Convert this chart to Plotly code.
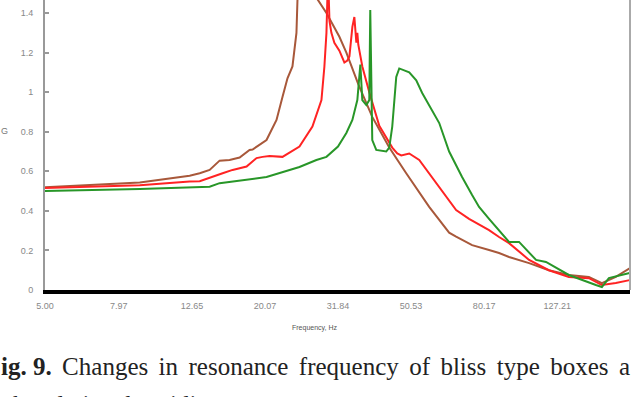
import numpy as np
import plotly.graph_objects as go

# ---- data ----
brown_f = [5.00, 9.10, 12.47, 13.29, 14.15, 15.07, 16.05, 17.10, 18.21, 18.56, 20.27, 21.59, 22.42,
           23.14, 23.88, 24.49, 24.65, 25.5, 26.2, 27.2, 27.96, 29.60, 32.12, 33.57, 36.21, 39.54,
           44.02, 49.00, 54.20, 56.65, 60.37, 64.26, 67.16, 74.30, 82.70, 88.09, 93.83, 106.5,
           120.7, 136.9, 155.4, 168.7, 184.2, 201.0]
brown_g = [0.52, 0.543, 0.578, 0.59, 0.607, 0.654, 0.657, 0.67, 0.708, 0.71, 0.758, 0.86, 0.976,
           1.07, 1.13, 1.30, 1.47, 1.70, 1.78, 1.60, 1.47, 1.40, 1.28, 1.20, 1.04, 0.875,
           0.72, 0.59, 0.47, 0.42, 0.354, 0.29, 0.27, 0.227, 0.202, 0.187, 0.167, 0.136,
           0.10, 0.076, 0.066, 0.035, 0.066, 0.11]

red_f = [5.00, 9.10, 12.47, 13.29, 15.36, 16.36, 17.87, 19.03, 19.77, 20.66, 22.42, 24.96, 27.09,
         28.68, 29.22, 29.60, 29.90, 30.17, 30.54, 31.12, 32.12, 33.15, 33.78, 34.22, 34.87, 35.31,
         35.76, 35.98, 36.20, 37.13, 38.80, 41.33, 44.86, 46.30, 47.48, 49.94, 53.20, 56.65,
         60.37, 64.26, 67.16, 72.88, 82.70, 88.09, 93.83, 106.5, 120.7, 136.9, 155.4, 168.7,
         184.2, 201.0]
red_g = [0.515, 0.53, 0.548, 0.55, 0.59, 0.607, 0.624, 0.667, 0.673, 0.677, 0.673, 0.725, 0.826,
         0.96, 1.13, 1.30, 1.60, 1.36, 1.30, 1.25, 1.21, 1.15, 1.16, 1.18, 1.33, 1.38,
         1.25, 1.30, 1.24, 1.13, 1.00, 0.83, 0.72, 0.69, 0.68, 0.69, 0.657, 0.59,
         0.52, 0.455, 0.404, 0.36, 0.303, 0.268, 0.237, 0.152, 0.10, 0.066, 0.06, 0.025,
         0.035, 0.05]

green_f = [5.00, 9.10, 14.15, 15.07, 20.27, 24.96, 27.78, 29.60, 31.84, 33.57, 34.87, 35.98, 36.67,
           37.13, 38.08, 38.80, 39.04, 39.54, 40.55, 43.19, 44.02, 44.86, 46.01, 46.89, 49.94,
           52.21, 54.20, 60.37, 64.26, 69.74, 74.30, 77.65, 82.70, 86.44, 93.83, 99.96, 111.3,
           118.5, 136.9, 162.4, 168.7, 176.3, 201.0]
green_g = [0.50, 0.51, 0.522, 0.54, 0.571, 0.622, 0.657, 0.673, 0.725, 0.794, 0.86, 0.96, 1.14,
           0.96, 0.935, 0.96, 1.415, 0.758, 0.708, 0.70, 0.72, 0.826, 1.077, 1.12, 1.10,
           1.06, 0.996, 0.844, 0.70, 0.571, 0.48, 0.42, 0.36, 0.318, 0.243, 0.243, 0.152,
           0.142, 0.076, 0.025, 0.015, 0.06, 0.086]

x_tick_vals = [5.00, 7.97, 12.65, 20.07, 31.84, 50.53, 80.17, 127.21]
x_tick_text = ["5.00", "7.97", "12.65", "20.07", "31.84", "50.53", "80.17", "127.21"]
y_tick_vals = [0, 0.2, 0.4, 0.6, 0.8, 1, 1.2, 1.4]
y_tick_text = ["0", "0.2", "0.4", "0.6", "0.8", "1", "1.2", "1.4"]

fig = go.Figure()
for f, g, c in [(brown_f, brown_g, "rgb(168,88,58)"),
                (red_f, red_g, "rgb(255,35,35)"),
                (green_f, green_g, "rgb(40,150,40)")]:
    fig.add_trace(go.Scatter(x=f, y=g, mode="lines", line=dict(color=c, width=2),
                             showlegend=False, hoverinfo="skip"))

fig.update_layout(
    width=638, height=397,
    margin=dict(l=45, r=8, t=0, b=107),
    paper_bgcolor="white", plot_bgcolor="white",
    font=dict(family="Liberation Sans, Arial, sans-serif", color="#777777", size=9),
    xaxis=dict(type="log", range=[np.log10(5.0), np.log10(201.5)],
               tickvals=x_tick_vals, ticktext=x_tick_text,
               showgrid=False, zeroline=False,
               showline=True, linecolor="black", linewidth=4,
               ticks="", ticklabelstandoff=4,
               tickfont=dict(size=9, color="#888888")),
    yaxis=dict(range=[0, 1.466], tickvals=y_tick_vals, ticktext=y_tick_text,
               showgrid=False, zeroline=False,
               showline=True, linecolor="#999999", linewidth=2,
               ticks="inside", ticklen=4, tickwidth=1.5, tickcolor="#999999",
               ticklabelstandoff=8,
               tickfont=dict(size=9, color="#888888")),
    shapes=[dict(type="line", xref="paper", yref="paper", x0=1, x1=1, y0=0, y1=1,
                 line=dict(color="#aaaaaa", width=2))],
)

sp = " \u2006"
cap1 = "<b>ig. 9.</b>" + sp + sp.join(["Changes", "in", "resonance", "frequency", "of",
                                         "bliss", "type", "boxes", "a"])
annotations = [
    dict(text="Frequency, Hz", x=(314 - 45) / 585, y=(290 - 328) / 290, xref="paper", yref="paper",
         showarrow=False, xanchor="center", yanchor="middle",
         font=dict(size=7, color="#555555")),
    dict(text="G", x=(5 - 45) / 585, y=(290 - 131) / 290, xref="paper", yref="paper",
         showarrow=False, xanchor="center", yanchor="middle",
         font=dict(size=9, color="#777777")),
    dict(text=cap1, x=(-1 - 45) / 585, y=(290 - 366) / 290, xref="paper", yref="paper",
         showarrow=False, xanchor="left", yanchor="middle",
         font=dict(family="Liberation Serif, Times New Roman, serif", size=25, color="#222222")),
    dict(text="ch  relative  humidity", x=(0 - 45) / 585, y=(290 - 404) / 290, xref="paper", yref="paper",
         showarrow=False, xanchor="left", yanchor="middle",
         font=dict(family="Liberation Serif, Times New Roman, serif", size=25, color="#222222")),
]
fig.update_layout(annotations=annotations)

fig.write_html("out.html")
